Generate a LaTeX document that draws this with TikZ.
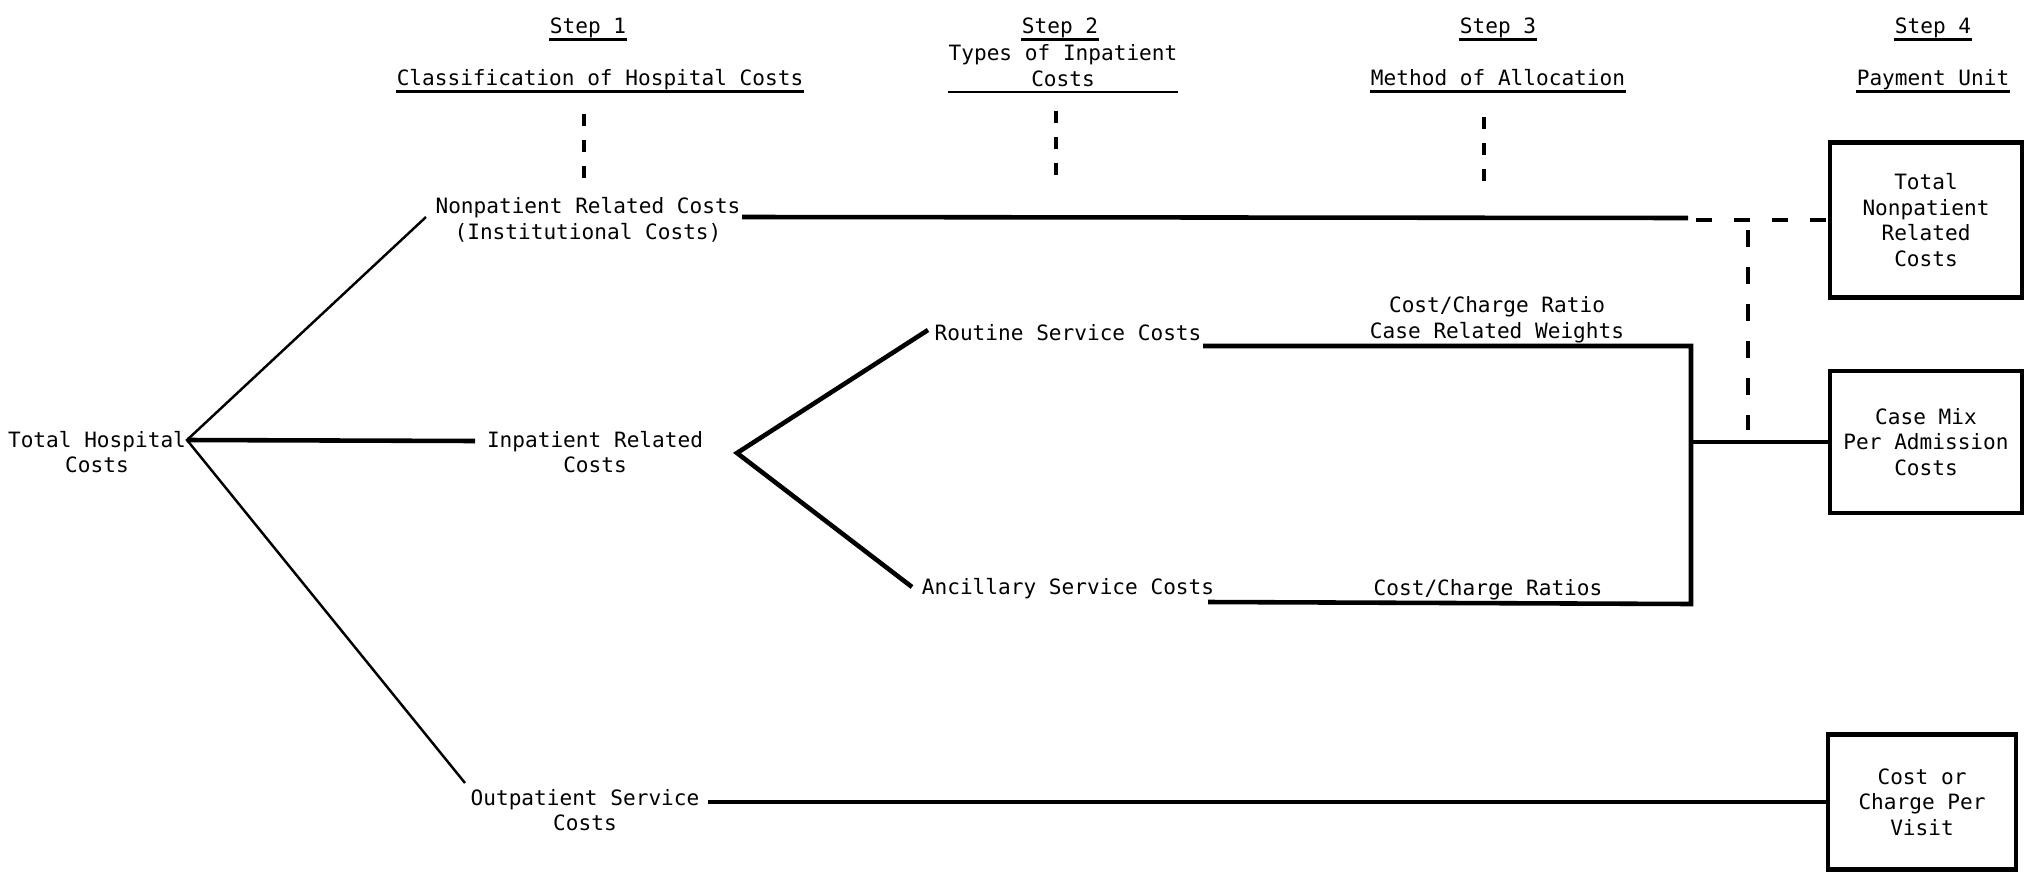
\documentclass[tikz,border=0pt]{standalone}
\usepackage{fontspec}
\setmainfont{DejaVu Sans Mono}
\usepackage{tikz}

\begin{document}
\begin{tikzpicture}[x=0.01cm, y=-0.01cm,
    every node/.style={font=\fontsize{6}{7.3}\selectfont, inner sep=0pt, align=center},
    hdr/.style={anchor=base, text depth=1.4pt},
    ulln/.style={line width=0.8pt},
    thinln/.style={line width=0.7pt},
    thkln/.style={line width=1.3pt},
    stepdash/.style={line width=1pt, dash pattern=on 0.12cm off 0.14cm},
    linkdash/.style={line width=1pt, dash pattern=on 0.17cm off 0.2cm},
    paybox/.style={draw, line width=1.2pt, minimum width=1.92cm}]
    \useasboundingbox (0,0) rectangle (2025,873);

    % Step headings
    \node[hdr] (step1) at (588,34) {Step 1};
    \node[hdr] (cls1) at (600,86) {Classification of Hospital Costs};
    \node[hdr] (step2) at (1060,34) {Step 2};
    \node[text depth=1.4pt] (typ2) at (1063,68) {Types of Inpatient\\Costs};
    \node[hdr] (step3) at (1498,34) {Step 3};
    \node[hdr] (meth3) at (1498,86) {Method of Allocation};
    \node[hdr] (step4) at (1933,34) {Step 4};
    \node[hdr] (pay4) at (1933,86) {Payment Unit};
    \foreach \n in {step1,cls1,step2,typ2,step3,meth3,step4,pay4}
        \draw[ulln] (\n.south west) -- (\n.south east);

    % Cost classes
    \node (total) at (97,452) {Total Hospital\\Costs};
    \node (nonpat) at (588,220) {Nonpatient Related Costs\\(Institutional Costs)};
    \node (inpat) at (595,452) {Inpatient Related\\Costs};
    \node (outpat) at (585,810) {Outpatient Service\\Costs};
    \node (routine) at (1068,333) {Routine Service Costs};
    \node (ancil) at (1068,589) {Ancillary Service Costs};
    \node (ratio1) at (1497,320) {Cost/Charge Ratio\\Case Related Weights};
    \node (ratio2) at (1488,590) {Cost/Charge Ratios};

    % Payment units
    \node[paybox, minimum height=1.55cm] (boxnon) at (1926,220) {Total\\Nonpatient\\Related\\Costs};
    \node[paybox, minimum height=1.42cm] (boxcase) at (1926,442) {Case Mix\\Per Admission\\Costs};
    \node[paybox, minimum height=1.35cm, minimum width=1.88cm] (boxvisit) at (1922,802) {Cost or\\Charge Per\\Visit};

    % line ends
    \coordinate (thc) at (187,440);
    \coordinate (npa) at (426,217);
    \coordinate (npb) at (742,217);
    \coordinate (npc) at (1688,218);
    \coordinate (npd) at (1696,220);
    \coordinate (ipa) at (475,441);
    \coordinate (ipb) at (737,453);
    \coordinate (rsa) at (928,330);
    \coordinate (rsb) at (1203,346);
    \coordinate (asa) at (912,587);
    \coordinate (asb) at (1208,602);
    \coordinate (rtc) at (1691,346);
    \coordinate (anc) at (1691,604);
    \coordinate (alc) at (1691,442);
    \coordinate (opa) at (465,783);
    \coordinate (opb) at (708,802);
    \coordinate (vda) at (1748,230);
    \coordinate (vdb) at (1748,430);

    % Tree
    \draw[thinln] (npa) -- (thc) -- (opa);
    \draw[thkln] (thc) -- (ipa);
    \draw[thkln] (rsa) -- (ipb) -- (asa);
    \draw[thkln] (npb) -- (npc);
    \draw[linkdash, dash pattern=on 0.16cm off 0.22cm] (npd) -- (boxnon.west);
    \draw[linkdash] (vda) -- (vdb);
    \draw[thkln] (rsb) -- (rtc) -- (anc) -- (asb);
    \draw[thkln] (alc) -- (boxcase.west);
    \draw[thkln] (opb) -- (boxvisit.west);

    % Dashed drops under the steps
    \draw[stepdash] (584,114) -- (584,178);
    \draw[stepdash] (1056,111) -- (1056,181);
    \draw[stepdash] (1484,117) -- (1484,185);
\end{tikzpicture}
\end{document}
